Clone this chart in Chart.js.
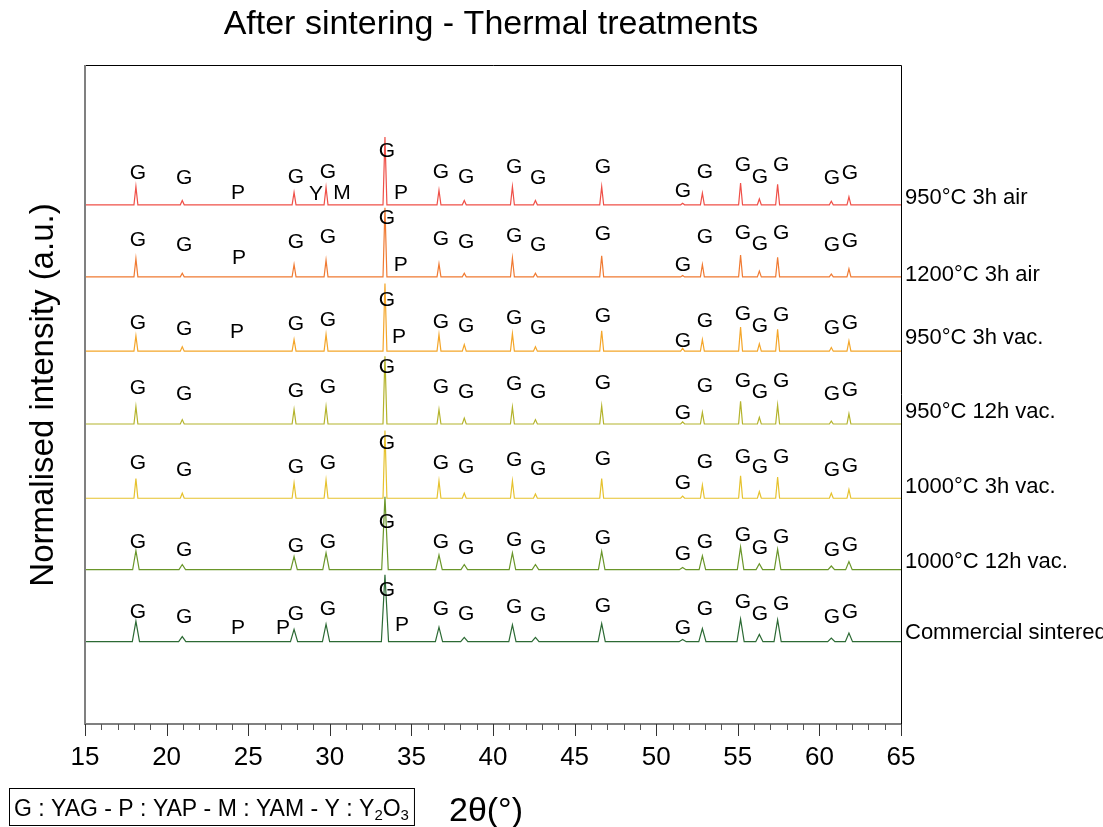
<!DOCTYPE html>
<html>
<head>
<meta charset="utf-8">
<script src="https://cdn.jsdelivr.net/npm/chart.js@4/dist/chart.umd.min.js"></script>
<style>
  html, body { margin: 0; padding: 0; background: #fff; }
  #wrap { width: 1103px; height: 827px; }
</style>
</head>
<body>
<div id="wrap"><canvas id="myChart" width="1103" height="827"></canvas></div>
<script>
// samples, top to bottom
const sampleNames = ['950°C 3h air', '1200°C 3h air', '950°C 3h vac.', '950°C 12h vac.', '1000°C 3h vac.', '1000°C 12h vac.', 'Commercial sintered'];
const sampleColors = ['#ef5048', '#f07a32', '#f4a62a', '#b4b32c', '#e6c22e', '#6a962a', '#2c6a34'];
// vertical offset of each pattern (stacking)
const offsets = [7.13, 6.14, 5.12, 4.12, 3.10, 2.12, 1.13];

// YAG (G) reflections, 2theta in degrees
const peakPositions = [18.12, 20.96, 27.81, 29.77, 33.38, 36.69, 38.24, 41.19, 42.6, 46.66, 51.62, 52.83, 55.17, 56.32, 57.44, 60.73, 61.81];

// normalised peak heights
const heights950air   = [0.25, 0.06, 0.17, 0.24, 0.93, 0.20, 0.06, 0.25, 0.06, 0.25, 0.02, 0.16, 0.30, 0.08, 0.28, 0.05, 0.11];
const heights1200air  = [0.25, 0.05, 0.17, 0.23, 0.95, 0.18, 0.05, 0.26, 0.05, 0.29, 0.02, 0.17, 0.30, 0.08, 0.27, 0.04, 0.11];
const heights950vac   = [0.21, 0.06, 0.16, 0.23, 0.93, 0.23, 0.09, 0.24, 0.06, 0.28, 0.04, 0.16, 0.33, 0.10, 0.30, 0.05, 0.14];
const heights950vac12 = [0.24, 0.06, 0.20, 0.24, 0.93, 0.20, 0.08, 0.23, 0.06, 0.25, 0.03, 0.16, 0.31, 0.09, 0.26, 0.04, 0.14];
const heights1000vac  = [0.27, 0.07, 0.21, 0.25, 0.93, 0.24, 0.07, 0.24, 0.06, 0.27, 0.03, 0.18, 0.31, 0.09, 0.29, 0.07, 0.12];
const heights1000vac12= [0.26, 0.07, 0.18, 0.23, 1.00, 0.20, 0.07, 0.23, 0.07, 0.25, 0.03, 0.19, 0.31, 0.08, 0.28, 0.05, 0.11];
const heightsCommercial=[0.28, 0.07, 0.17, 0.24, 0.92, 0.20, 0.06, 0.23, 0.06, 0.25, 0.03, 0.18, 0.31, 0.10, 0.30, 0.05, 0.12];
const allHeights = [heights950air, heights1200air, heights950vac, heights950vac12, heights1000vac, heights1000vac12, heightsCommercial];

// G annotations: x position and height above each baseline
const gLabelX = [18.25, 21.07, 27.93, 29.89, 33.50, 36.81, 38.35, 41.29, 42.76, 46.74, 51.64, 52.99, 55.32, 56.36, 57.65, 60.77, 61.87];
const gLabel950air    = [0.44, 0.36, 0.38, 0.45, 0.73, 0.45, 0.38, 0.51, 0.37, 0.52, 0.18, 0.45, 0.55, 0.38, 0.54, 0.36, 0.43];
const gLabel1200air   = [0.51, 0.43, 0.47, 0.54, 0.81, 0.52, 0.47, 0.56, 0.44, 0.59, 0.16, 0.55, 0.60, 0.45, 0.60, 0.43, 0.49];
const gLabel950vac    = [0.38, 0.30, 0.37, 0.43, 0.70, 0.40, 0.34, 0.45, 0.32, 0.48, 0.14, 0.41, 0.51, 0.34, 0.49, 0.32, 0.38];
const gLabel950vac12  = [0.49, 0.41, 0.45, 0.51, 0.78, 0.51, 0.44, 0.55, 0.43, 0.56, 0.15, 0.52, 0.59, 0.44, 0.59, 0.41, 0.47];
const gLabel1000vac   = [0.48, 0.38, 0.43, 0.48, 0.76, 0.48, 0.43, 0.52, 0.40, 0.54, 0.21, 0.49, 0.56, 0.43, 0.56, 0.38, 0.44];
const gLabel1000vac12 = [0.37, 0.27, 0.32, 0.37, 0.65, 0.37, 0.30, 0.40, 0.29, 0.43, 0.21, 0.37, 0.47, 0.30, 0.45, 0.27, 0.33];
const gLabelCommercial= [0.41, 0.33, 0.38, 0.44, 0.71, 0.44, 0.38, 0.48, 0.36, 0.49, 0.18, 0.44, 0.54, 0.38, 0.52, 0.34, 0.40];
const allGLabels = [gLabel950air, gLabel1200air, gLabel950vac, gLabel950vac12, gLabel1000vac, gLabel1000vac12, gLabelCommercial];

// other phases: [letter, 2theta, height above baseline]
const otherLabels = [
  [['P', 24.37, 0.16], ['Y', 29.15, 0.15], ['M', 30.75, 0.16], ['P', 34.36, 0.16]],
  [['P', 24.44, 0.26], ['P', 34.34, 0.16]],
  [['P', 24.31, 0.26], ['P', 34.24, 0.19]],
  [],
  [],
  [],
  [['P', 24.37, 0.18], ['P', 27.13, 0.18], ['P', 34.42, 0.22]]
];

// sample name height above baseline
const nameLift = [0.10, 0.03, 0.18, 0.16, 0.15, 0.11, 0.12];

const xTickLabels = ['15', '20', '25', '30', '35', '40', '45', '50', '55', '60', '65'];

// broader peaks for the last two patterns
const peakHalfWidth = [0.12, 0.12, 0.12, 0.12, 0.12, 0.2, 0.22];

function buildPattern(i) {
  const off = offsets[i];
  const h = allHeights[i];
  const w = peakHalfWidth[i];
  const pts = [{ x: 15, y: off }];
  for (let k = 0; k < peakPositions.length; k++) {
    const p = peakPositions[k];
    pts.push({ x: p - w, y: off });
    pts.push({ x: p, y: off + h[k] });
    pts.push({ x: p + w, y: off });
  }
  pts.push({ x: 65, y: off });
  return pts;
}

const datasets = sampleNames.map((name, i) => ({
  label: name,
  data: buildPattern(i),
  borderColor: sampleColors[i],
  borderWidth: 1.2,
  pointRadius: 0,
  tension: 0,
  fill: false
}));

const FONT = '"Liberation Sans", Arial, sans-serif';

const decorations = {
  id: 'decorations',
  afterDraw(chart) {
    const ctx = chart.ctx;
    const a = chart.chartArea;
    const xs = chart.scales.x;
    const ys = chart.scales.y;
    ctx.save();

    // frame
    ctx.strokeStyle = '#000';
    ctx.lineWidth = 1;
    ctx.beginPath();
    ctx.moveTo(a.left, a.top + 0.5);
    ctx.lineTo(a.right + 0.5, a.top + 0.5);
    ctx.lineTo(a.right + 0.5, a.bottom);
    ctx.stroke();
    ctx.strokeStyle = '#808080';
    ctx.lineWidth = 2;
    ctx.beginPath();
    ctx.moveTo(a.left, a.top);
    ctx.lineTo(a.left, a.bottom);
    ctx.lineTo(a.right, a.bottom);
    ctx.stroke();

    // ticks
    ctx.lineWidth = 1;
    for (let v = 15; v <= 65; v++) {
      const px = Math.round(xs.getPixelForValue(v)) + 0.5;
      const major = v % 5 === 0;
      ctx.strokeStyle = major ? '#333' : '#555';
      ctx.beginPath();
      ctx.moveTo(px, a.bottom);
      ctx.lineTo(px, a.bottom + (major ? 12 : 6));
      ctx.stroke();
    }
    ctx.fillStyle = '#000';
    ctx.font = '26px ' + FONT;
    ctx.textAlign = 'center';
    ctx.textBaseline = 'middle';
    xTickLabels.forEach(t => {
      ctx.fillText(t, xs.getPixelForValue(Number(t)), 758);
    });

    // x title
    ctx.font = '34px ' + FONT;
    ctx.fillText('2θ(°)', 486, 812);

    // title
    ctx.font = '34px ' + FONT;
    ctx.fillText('After sintering - Thermal treatments', 491, 25);

    // y title
    ctx.save();
    ctx.translate(44, 395);
    ctx.rotate(-Math.PI / 2);
    ctx.font = '33px ' + FONT;
    ctx.fillText('Normalised intensity (a.u.)', 0, 0);
    ctx.restore();

    // peak labels
    ctx.font = '21px ' + FONT;
    for (let i = 0; i < sampleNames.length; i++) {
      const g = allGLabels[i];
      for (let k = 0; k < gLabelX.length; k++) {
        ctx.fillText('G', xs.getPixelForValue(gLabelX[k]), ys.getPixelForValue(offsets[i] + g[k]));
      }
      otherLabels[i].forEach(l => {
        ctx.fillText(l[0], xs.getPixelForValue(l[1]), ys.getPixelForValue(offsets[i] + l[2]));
      });
    }

    // sample names on the right
    ctx.font = '22px ' + FONT;
    ctx.textAlign = 'left';
    for (let i = 0; i < sampleNames.length; i++) {
      ctx.fillText(sampleNames[i], a.right + 4, ys.getPixelForValue(offsets[i] + nameLift[i]));
    }

    // phase key box
    ctx.font = '23px ' + FONT;
    ctx.textBaseline = 'alphabetic';
    let tx = 14;
    const ty = 816;
    const part1 = 'G : YAG - P : YAP - M : YAM - Y : Y';
    ctx.fillText(part1, tx, ty);
    tx += ctx.measureText(part1).width;
    ctx.font = '15px ' + FONT;
    ctx.fillText('2', tx, ty + 4);
    tx += ctx.measureText('2').width;
    ctx.font = '23px ' + FONT;
    ctx.fillText('O', tx, ty);
    tx += ctx.measureText('O').width;
    ctx.font = '15px ' + FONT;
    ctx.fillText('3', tx, ty + 4);
    tx += ctx.measureText('3').width;
    ctx.strokeStyle = '#000';
    ctx.lineWidth = 1;
    ctx.strokeRect(9.5, 788.5, tx + 5 - 9, 37);

    ctx.restore();
  }
};

const myChart = new Chart(document.getElementById('myChart').getContext('2d'), {
  type: 'line',
  data: { datasets: datasets },
  options: {
    responsive: false,
    animation: false,
    devicePixelRatio: 1,
    layout: { padding: { left: 85, right: 202, top: 65, bottom: 103 } },
    scales: {
      x: { type: 'linear', min: 15, max: 65, display: false },
      y: { type: 'linear', min: 0, max: 9.05, display: false }
    },
    plugins: {
      legend: { display: false },
      tooltip: { enabled: false }
    }
  },
  plugins: [decorations]
});
</script>
</body>
</html>
